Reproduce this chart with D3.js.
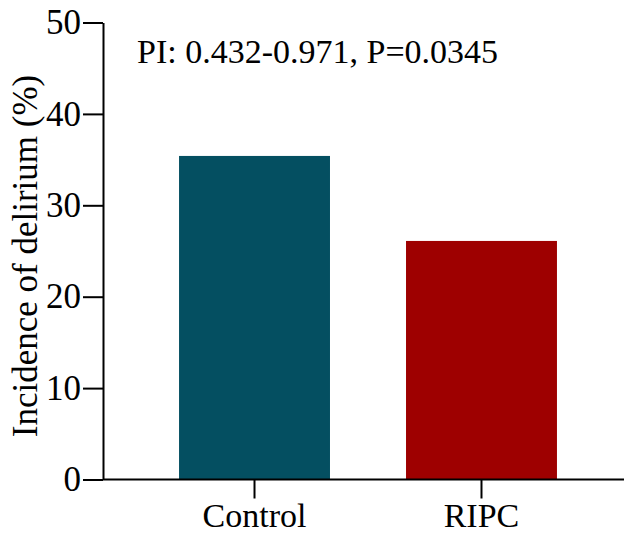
<!DOCTYPE html>
<html>
<head>
<meta charset="utf-8">
<script src="https://cdn.jsdelivr.net/npm/d3@7"></script>
<style>
  body { margin: 0; background: #fff; }
  svg { display: block; font-family: "Liberation Serif", "Times New Roman", serif; }
</style>
</head>
<body>
<div id="chart"></div>
<script>
// Data
var groups = ["Control", "RIPC"];
var incidence = [35.4, 26.1];
var barColors = ["#044f61", "#9e0000"];
var yTicks = [0, 10, 20, 30, 40, 50];
var note = "PI: 0.432-0.971, P=0.0345";

var width = 624, height = 535;
var svg = d3.select("#chart").append("svg")
    .attr("width", width)
    .attr("height", height);

var y = d3.scaleLinear().domain([0, 50]).range([479.5, 22.5]);
var x = d3.scaleBand().domain(groups).range([103, 633]).padding(0.335);

// bars
svg.selectAll(".bar")
    .data(groups)
    .enter().append("rect")
    .attr("class", "bar")
    .attr("x", function(d) { return x(d); })
    .attr("width", x.bandwidth())
    .attr("y", function(d, i) { return y(incidence[i]); })
    .attr("height", function(d, i) { return y(0) - y(incidence[i]); })
    .attr("fill", function(d, i) { return barColors[i]; });

// y axis
var yAxis = svg.append("g")
    .attr("transform", "translate(103,0)")
    .call(d3.axisLeft(y).tickValues(yTicks).tickSize(20).tickPadding(2).tickSizeOuter(0));
yAxis.attr("font-family", null);
yAxis.select(".domain").attr("stroke-width", 2);
yAxis.selectAll(".tick line").attr("stroke-width", 2);
yAxis.selectAll(".tick text")
    .attr("font-size", 35)
    .attr("fill", "#000");

// x axis
var xAxis = svg.append("g")
    .attr("transform", "translate(0," + y(0) + ")")
    .call(d3.axisBottom(x).tickSize(19).tickPadding(4).tickSizeOuter(0));
xAxis.attr("font-family", null);
xAxis.select(".domain").attr("d", "M103,0H624").attr("stroke-width", 2);
xAxis.selectAll(".tick line").attr("stroke-width", 2);
xAxis.selectAll(".tick text")
    .attr("font-size", 34)
    .attr("fill", "#000");

// y label
svg.append("text")
    .attr("transform", "translate(37,256) rotate(-90)")
    .attr("text-anchor", "middle")
    .attr("font-size", 35)
    .text("Incidence of delirium (%)");

// annotation
svg.append("text")
    .attr("x", 137)
    .attr("y", 63)
    .attr("font-size", 34)
    .text(note);
</script>
</body>
</html>
